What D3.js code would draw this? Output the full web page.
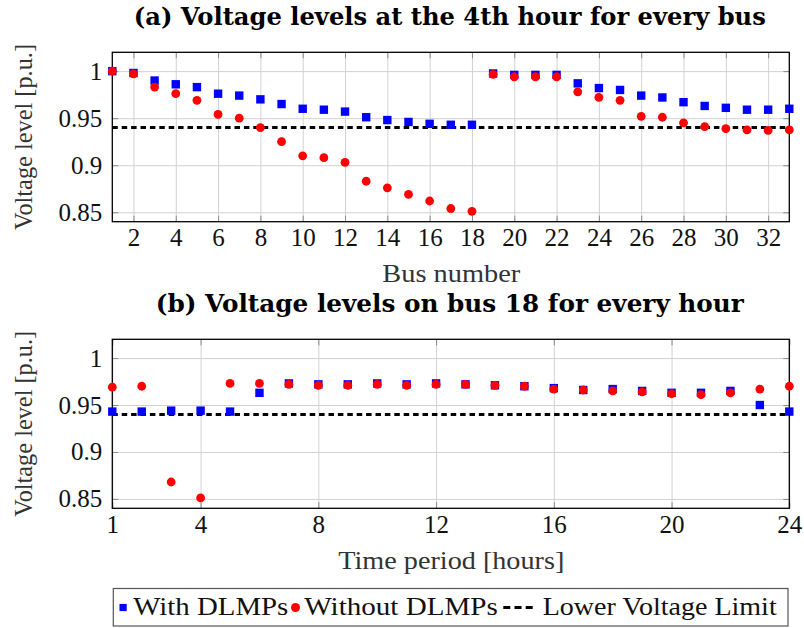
<!DOCTYPE html>
<html>
<head>
<meta charset="utf-8">
<script src="https://cdn.jsdelivr.net/npm/d3@7"></script>
<style>
  html, body { margin: 0; padding: 0; background: #fff; }
  svg { display: block; }
</style>
</head>
<body>
<svg id="chart" width="804" height="628"></svg>
<script>
// ---- data ----
const buses = [1, 2, 3, 4, 5, 6, 7, 8, 9, 10, 11, 12, 13, 14, 15, 16, 17, 18, 19, 20, 21, 22, 23, 24, 25, 26, 27, 28, 29, 30, 31, 32, 33];
const busWithDLMP = [1.000, 0.998, 0.990, 0.986, 0.983, 0.976, 0.974, 0.970, 0.965, 0.960, 0.959, 0.957, 0.951, 0.948, 0.946, 0.944, 0.943, 0.943,
                     0.9975, 0.996, 0.996, 0.996, 0.987, 0.982, 0.980, 0.974, 0.972, 0.967, 0.963, 0.961, 0.959, 0.959, 0.960];
const busWithoutDLMP = [1.000, 0.997, 0.983, 0.976, 0.969, 0.954, 0.950, 0.940, 0.925, 0.910, 0.908, 0.903, 0.883, 0.876, 0.869, 0.862, 0.854, 0.851,
                        0.9965, 0.994, 0.994, 0.994, 0.978, 0.972, 0.969, 0.952, 0.951, 0.945, 0.941, 0.939, 0.9375, 0.937, 0.9375];
const hours = [1, 2, 3, 4, 5, 6, 7, 8, 9, 10, 11, 12, 13, 14, 15, 16, 17, 18, 19, 20, 21, 22, 23, 24];
const hourWithDLMP = [0.943, 0.943, 0.944, 0.944, 0.943, 0.963, 0.973, 0.972, 0.972, 0.973, 0.972, 0.973,
                      0.972, 0.971, 0.970, 0.968, 0.966, 0.967, 0.965, 0.963, 0.963, 0.965, 0.950, 0.943];
const hourWithoutDLMP = [0.969, 0.970, 0.868, 0.851, 0.973, 0.973, 0.972, 0.971, 0.971, 0.972, 0.971, 0.972,
                         0.972, 0.971, 0.970, 0.967, 0.966, 0.965, 0.964, 0.962, 0.961, 0.963, 0.967, 0.970];
const lowerVoltageLimit = 0.94;
const yTickValues = [0.85, 0.9, 0.95, 1];
const yTickLabels = ["0.85", "0.9", "0.95", "1"];
const busTickValues = [2, 4, 6, 8, 10, 12, 14, 16, 18, 20, 22, 24, 26, 28, 30, 32];
const hourTickValues = [1, 4, 8, 12, 16, 20, 24];
const seriesNames = ["With DLMPs", "Without DLMPs", "Lower Voltage Limit"];
const titles = ["(a) Voltage levels at the 4th hour for every bus", "(b) Voltage levels on bus 18 for every hour"];
const xLabels = ["Bus number", "Time period [hours]"];
const yLabel = "Voltage level [p.u.]";

// ---- styling ----
const SERIF = "'Liberation Serif', 'Times New Roman', serif";
const BOLD_SERIF = "'DejaVu Serif', 'Liberation Serif', serif";
const BLUE = "#0000ff", RED = "#ff0000";
const GRID = "#d2d2d2", TICK = "#8a8a8a";

const svg = d3.select("#chart");
svg.append("rect").attr("width", 804).attr("height", 628).attr("fill", "#fff");

const left = 112.3, right = 789.3;

function panel(cfg) {
  const { top, bottom, xDomain, xTicks, xs, withVals, withoutVals, title, titleWidth, xLabel, xLabelWidth } = cfg;
  const x = d3.scaleLinear().domain(xDomain).range([left, right]);
  const y = d3.scaleLinear().domain([0.84, 1.02]).range([bottom, top]);
  const g = svg.append("g");
  const h = bottom - top, w = right - left;

  // grid lines
  g.append("g").attr("transform", `translate(0,${bottom})`)
    .call(d3.axisBottom(x).tickValues(xTicks).tickSize(-h).tickFormat(""))
    .call(a => a.select(".domain").remove())
    .call(a => a.selectAll("line").attr("stroke", GRID).attr("stroke-width", 1));
  g.append("g").attr("transform", `translate(${left},0)`)
    .call(d3.axisLeft(y).tickValues(yTickValues).tickSize(-w).tickFormat(""))
    .call(a => a.select(".domain").remove())
    .call(a => a.selectAll("line").attr("stroke", GRID).attr("stroke-width", 1));

  // inward tick marks on all four sides
  const tickLen = 6;
  [[d3.axisBottom(x).tickValues(xTicks), `translate(0,${bottom})`],
   [d3.axisTop(x).tickValues(xTicks), `translate(0,${top})`],
   [d3.axisLeft(y).tickValues(yTickValues), `translate(${left},0)`],
   [d3.axisRight(y).tickValues(yTickValues), `translate(${right},0)`]].forEach(([ax, tr]) => {
    g.append("g").attr("transform", tr)
      .call(ax.tickSize(-tickLen).tickFormat(""))
      .call(a => a.select(".domain").remove())
      .call(a => a.selectAll("line").attr("stroke", TICK).attr("stroke-width", 1));
  });

  // tick labels
  g.append("g").attr("transform", `translate(0,${bottom})`)
    .call(d3.axisBottom(x).tickValues(xTicks).tickSize(0).tickPadding(6.5).tickFormat(d3.format("d")))
    .call(a => a.select(".domain").remove())
    .call(a => a.selectAll("text").attr("font-family", SERIF).attr("font-size", 25).attr("fill", "#111"));
  g.append("g").attr("transform", `translate(${left},0)`)
    .call(d3.axisLeft(y).tickValues(yTickValues).tickSize(0).tickPadding(10)
      .tickFormat((d, i) => yTickLabels[i]))
    .call(a => a.select(".domain").remove())
    .call(a => a.selectAll("text").attr("font-family", SERIF).attr("font-size", 25).attr("fill", "#111"));

  // lower voltage limit
  g.append("path")
    .datum(xDomain)
    .attr("d", d3.line().x(d => x(d)).y(() => y(lowerVoltageLimit)))
    .attr("stroke", "#000").attr("stroke-width", 3).attr("stroke-dasharray", "5.5,3.9")
    .attr("fill", "none");

  // frame
  g.append("rect").attr("x", left).attr("y", top).attr("width", w).attr("height", h)
    .attr("fill", "none").attr("stroke", "#000").attr("stroke-width", 1.3);

  // markers
  const sq = 8.4;
  g.append("g").selectAll("rect").data(xs).join("rect")
    .attr("x", (d) => x(d) - sq / 2)
    .attr("y", (d, i) => y(withVals[i]) - sq / 2)
    .attr("width", sq).attr("height", sq).attr("fill", BLUE);
  g.append("g").selectAll("circle").data(xs).join("circle")
    .attr("cx", (d) => x(d))
    .attr("cy", (d, i) => y(withoutVals[i]))
    .attr("r", 4.4).attr("fill", RED);

  // title
  svg.append("text").attr("x", (left + right) / 2 - 1).attr("y", top - 27)
    .attr("text-anchor", "middle").attr("font-family", BOLD_SERIF).attr("font-weight", "bold")
    .attr("font-size", 24).attr("fill", "#000")
    .attr("textLength", titleWidth).attr("lengthAdjust", "spacingAndGlyphs")
    .text(title);

  // x label
  svg.append("text").attr("x", (left + right) / 2 + 0.5).attr("y", bottom + 60.5)
    .attr("text-anchor", "middle").attr("font-family", SERIF).attr("font-size", 26).attr("fill", "#333")
    .attr("textLength", xLabelWidth).attr("lengthAdjust", "spacingAndGlyphs")
    .text(xLabel);

  // y label
  svg.append("text").attr("transform", `translate(32,${(top + bottom) / 2}) rotate(-90)`)
    .attr("text-anchor", "middle").attr("font-family", SERIF).attr("font-size", 25).attr("fill", "#333")
    .attr("textLength", 186).attr("lengthAdjust", "spacingAndGlyphs")
    .text(yLabel);
}

panel({
  top: 52.3, bottom: 221.7, xDomain: [1, 33], xTicks: busTickValues, xs: buses,
  withVals: busWithDLMP, withoutVals: busWithoutDLMP,
  title: titles[0], titleWidth: 632, xLabel: xLabels[0], xLabelWidth: 138
});
panel({
  top: 339.3, bottom: 508.3, xDomain: [1, 24], xTicks: hourTickValues, xs: hours,
  withVals: hourWithDLMP, withoutVals: hourWithoutDLMP,
  title: titles[1], titleWidth: 588, xLabel: xLabels[1], xLabelWidth: 226
});

// ---- legend ----
const lg = svg.append("g");
lg.append("rect").attr("x", 113.3).attr("y", 588.5).attr("width", 674.7).attr("height", 37.5)
  .attr("fill", "#fff").attr("stroke", "#555").attr("stroke-width", 1.2);
const ly = 607.5, lb = 615;
lg.append("rect").attr("x", 119.5).attr("y", ly - 3.6).attr("width", 7.2).attr("height", 7.2).attr("fill", BLUE);
lg.append("circle").attr("cx", 295.5).attr("cy", ly).attr("r", 4.5).attr("fill", RED);
lg.append("line").attr("x1", 503.3).attr("x2", 532.7).attr("y1", ly).attr("y2", ly)
  .attr("stroke", "#000").attr("stroke-width", 3).attr("stroke-dasharray", "7,4.2");
[[133.3, 155], [304.3, 193.4], [542.7, 234]].forEach(([tx, tw], i) => {
  lg.append("text").attr("x", tx).attr("y", lb)
    .attr("font-family", SERIF).attr("font-size", 26).attr("fill", "#111")
    .attr("textLength", tw).attr("lengthAdjust", "spacingAndGlyphs")
    .text(seriesNames[i]);
});
</script>
</body>
</html>
